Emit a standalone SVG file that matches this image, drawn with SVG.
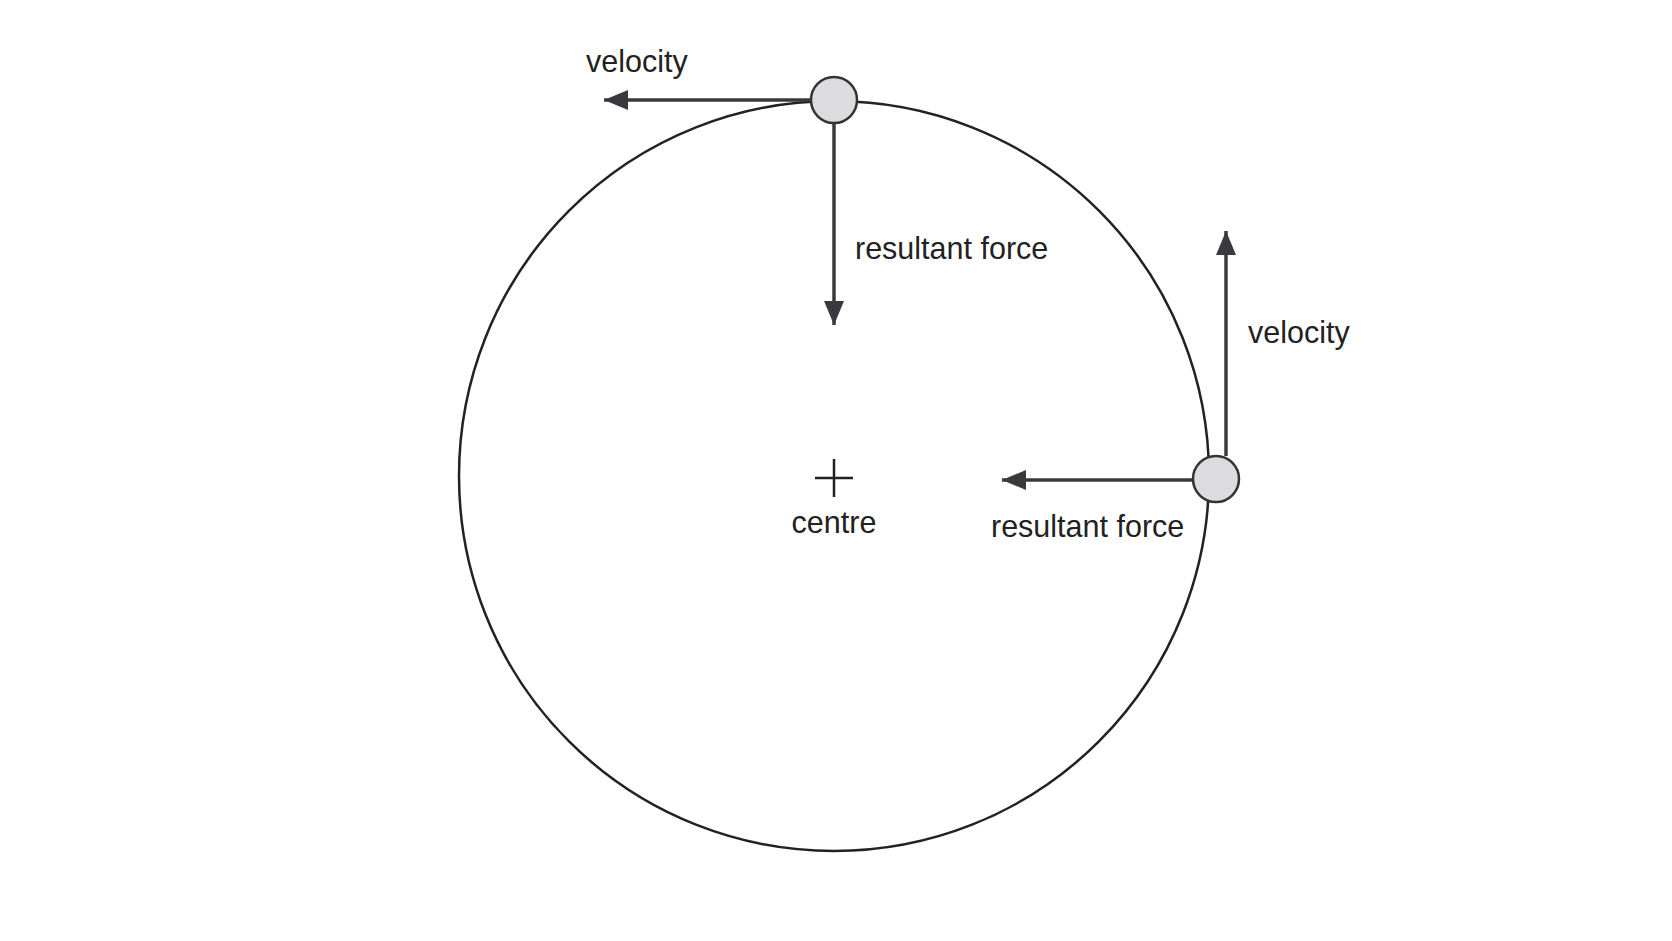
<svg xmlns="http://www.w3.org/2000/svg" width="1672" height="941" viewBox="0 0 1672 941">
<style>
.t{font-family:"Liberation Sans",Arial,sans-serif;font-size:30.5px;fill:#222}
.a{stroke:#3a3a3e;stroke-width:3.5;fill:none}
.b{fill:#dcdcde;stroke:#333;stroke-width:2.5}
</style>
<defs>
<marker id="ah" viewBox="0 0 24 20" refX="24" refY="10" markerWidth="24" markerHeight="20" markerUnits="userSpaceOnUse" orient="auto"><path d="M0,0 L24,10 L0,20 Z" fill="#3a3a3e"/></marker></defs>
<rect width="1672" height="941" fill="#fff"/>
<g id="orbit"><circle cx="834" cy="476" r="375" fill="none" stroke="#222" stroke-width="2.5"/></g>
<g id="centre"><path d="M815,478 H853 M834,459 V497" stroke="#222" stroke-width="2.5"/><text class="t" x="834" y="533" text-anchor="middle">centre</text></g>
<g id="connectors">
<line class="a" x1="810" y1="100" x2="604" y2="100" marker-end="url(#ah)"/>
<line class="a" x1="834" y1="124" x2="834" y2="325" marker-end="url(#ah)"/>
<line class="a" x1="1226" y1="456" x2="1226" y2="231" marker-end="url(#ah)"/>
<line class="a" x1="1193" y1="480" x2="1002" y2="480" marker-end="url(#ah)"/>
</g>
<g id="top-ball"><circle class="b" cx="834" cy="100" r="23"/></g>
<g id="right-ball"><circle class="b" cx="1216" cy="479" r="23"/></g>
<g id="labels">
<text class="t" x="586" y="72">velocity</text>
<text class="t" x="855" y="259">resultant force</text>
<text class="t" x="1248" y="343">velocity</text>
<text class="t" x="991" y="537">resultant force</text>
</g>
</svg>
